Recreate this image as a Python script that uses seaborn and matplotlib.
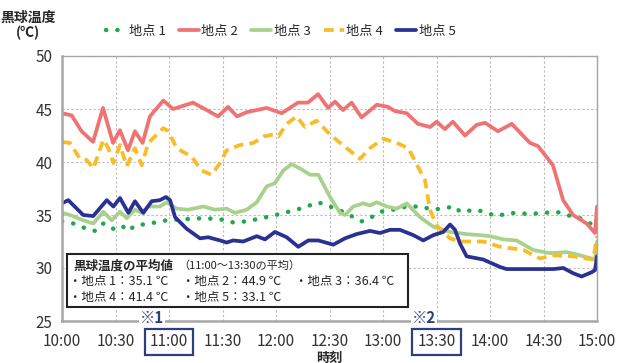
import seaborn as sns
import matplotlib.pyplot as plt
import pandas as pd
from matplotlib.patches import Rectangle

# minutes after 10:00 and black-globe temperature (℃) for each site
t1 = [0, 6.3, 13.8, 18.5, 23.2, 28.8, 33.5, 37.2, 40.9, 49.3, 58.7, 68, 79.2, 88.6, 96, 103.6,
      114.8, 122.2, 131.6, 137.2, 143.7, 150.3, 157.7, 168, 172.7, 178.3, 185.7, 193.3, 200.7,
      208.2, 220.4, 223.2, 232.5, 243.7, 251.2, 262.4, 277.4, 283, 290.4, 296, 300]
v1 = [34.4, 34.2, 33.7, 33.5, 34.2, 33.7, 34.0, 33.5, 34.0, 34.2, 34.5, 34.6, 34.7, 34.6, 34.3, 34.4,
      34.8, 35.1, 35.5, 35.8, 36.2, 35.8, 35.3, 34.4, 34.7, 35.3, 35.5, 35.8, 35.8,
      35.5, 35.8, 35.3, 35.5, 34.9, 35.2, 35.1, 35.3, 35.0, 34.7, 34.2, 34.2]

t2 = [0, 5.4, 11, 17.4, 23, 28.6, 32.5, 37, 40.9, 45.2, 49.3, 56.8, 62.3, 73.5, 81.1, 87.5, 93.1,
      98.1, 103.6, 114.8, 123.2, 132.3, 137.9, 143.6, 149.2, 153.1, 157.6, 162.4, 168, 176.5,
      182.8, 186.7, 193.3, 199.6, 206.4, 210.1, 214.7, 219.2, 226, 232.5, 237.2, 244.5, 252.2,
      262.4, 266.9, 275.3, 281, 286.6, 294.2, 298.9, 300]
v2 = [44.6, 44.4, 42.9, 41.9, 45.1, 41.8, 43.0, 41.1, 42.9, 41.8, 44.3, 45.8, 45.0, 45.6, 44.9, 44.3, 45.2,
      44.3, 44.7, 45.1, 44.6, 45.6, 45.6, 46.4, 45.1, 45.7, 44.9, 45.6, 44.2, 45.4,
      45.2, 44.8, 44.6, 43.6, 43.3, 43.8, 43.1, 43.8, 42.5, 43.5, 43.7, 42.9, 43.6,
      41.8, 41.5, 39.7, 36.4, 35.0, 34.2, 33.3, 35.8]

t3 = [0, 4.5, 11.9, 17.5, 23.2, 27.9, 32.5, 36.3, 40.9, 44.7, 48.4, 54.9, 58.7, 64.3, 70.8, 79.2,
      85.8, 92.3, 97, 103.6, 109.2, 114.8, 119.4, 124.1, 128.8, 133.4, 139.1, 143.7, 150.3, 155.9,
      158.7, 163.3, 168.9, 172.7, 176.5, 182.1, 187.7, 193.3, 200.7, 208.2, 217.6, 226.9, 234.4,
      240, 247.4, 254.9, 264.2, 273.6, 283, 290.4, 298.9, 300]
v3 = [35.2, 35.0, 34.5, 34.2, 35.3, 34.5, 35.3, 34.7, 35.5, 35.2, 35.8, 35.8, 36.2, 35.6, 35.5, 35.8,
      35.5, 35.6, 35.2, 35.5, 36.2, 37.7, 38.0, 39.2, 39.8, 39.4, 38.8, 38.8, 36.7, 35.2,
      35.0, 35.8, 36.1, 35.9, 36.2, 35.8, 35.6, 36.1, 34.8, 33.9, 33.4, 33.2, 33.1,
      33.0, 32.7, 32.6, 31.7, 31.4, 31.5, 31.2, 30.8, 32.5]

t4 = [0, 4.5, 10.1, 13.8, 17.6, 23.2, 26, 28.8, 32.5, 36.3, 40.9, 44.7, 48.4, 56.8, 59.6, 64.3,
      72.7, 78.3, 83.9, 88.6, 92.3, 99.8, 107.3, 112.9, 118.5, 121.3, 126, 131.6, 136.2, 142.8,
      150.3, 159.6, 167.1, 172.7, 180.1, 187.7, 194.2, 200.7, 203.5, 205.4, 206.3, 210.1, 217.6,
      223.2, 236.2, 245.6, 258.7, 268, 275.5, 286.7, 297.9, 300]
v4 = [41.9, 41.8, 40.3, 40.2, 39.4, 42.1, 41.3, 39.9, 41.6, 39.6, 41.3, 39.7, 41.8, 43.2, 42.9, 41.3,
      40.5, 39.2, 38.8, 39.9, 41.1, 41.6, 41.8, 42.4, 42.6, 42.4, 43.6, 44.3, 43.3, 43.9,
      42.6, 41.3, 40.3, 41.3, 42.2, 41.8, 41.3, 39.2, 38.3, 36.4, 35.5, 34.0, 32.8,
      32.5, 32.5, 32.0, 31.7, 30.9, 31.2, 31.1, 30.8, 33.0]

t5 = [0, 3.5, 11.9, 17.5, 25.1, 28.8, 32.5, 37.2, 40.9, 45.6, 50.3, 54.9, 58.3, 60.6, 63.4, 69.9,
      77.4, 82, 88.6, 92.3, 96, 101.6, 109.2, 113.8, 119.4, 126, 132.5, 138.1, 143.7, 152.1,
      158.7, 165.2, 172.7, 178.3, 183.9, 189.5, 197, 202.6, 208.2, 213.8, 217.6, 220.4, 223.2,
      226.9, 236.2, 245.6, 249.3, 264.2, 275.5, 281.1, 286.7, 291.4, 297, 298.9, 300]
v5 = [36.1, 36.4, 35.0, 34.9, 36.4, 35.8, 36.6, 35.2, 36.3, 35.2, 36.3, 36.4, 36.7, 36.4, 34.8, 33.7,
      32.8, 32.9, 32.6, 32.4, 32.6, 32.5, 33.0, 32.7, 33.4, 32.9, 32.0, 32.6, 32.6, 32.2,
      32.8, 33.2, 33.5, 33.3, 33.6, 33.6, 33.1, 32.6, 33.1, 33.4, 34.1, 33.6, 32.3,
      31.1, 30.8, 30.1, 29.9, 29.9, 29.9, 30.0, 29.5, 29.2, 29.6, 29.8, 31.1]

site_names = ["地点 1", "地点 2", "地点 3", "地点 4", "地点 5"]
tick_labels = ["10:00", "10:30", "11:00", "11:30", "12:00", "12:30",
               "13:00", "13:30", "14:00", "14:30", "15:00"]
avg_values = ["35.1", "44.9", "36.4", "41.4", "33.1"]

sns.set_style("white")
plt.rcParams['font.family'] = ['Noto Sans CJK JP', 'DejaVu Sans']

navy = "#2E3F80"
fig = plt.figure(figsize=(6.19, 3.63), dpi=100)
ax = fig.add_axes([62/619, 1 - 321/363, 535/619, 265/363])

def px(x, y):
    return x / 619, 1 - y / 363

series = [(t1, v1), (t2, v2), (t3, v3), (t4, v4), (t5, v5)]
styles = [
    dict(color="#22A84A", lw=3.2, linestyle=(0, (0.05, 2.5)), dash_capstyle='round'),
    dict(color="#F07373", lw=2.7, solid_capstyle='round'),
    dict(color="#A9D18E", lw=2.7, solid_capstyle='round'),
    dict(color="#F9BC26", lw=2.7, linestyle=(0, (2.6, 1.6))),
    dict(color="#2B3192", lw=2.7, solid_capstyle='round'),
]
for name, (t, v), st in zip(site_names, series, styles):
    df = pd.DataFrame({"t": t, "temp": v})
    sns.lineplot(data=df, x="t", y="temp", ax=ax, label=name, **st)

ax.set_xlim(0, 300)
ax.set_ylim(25, 50)
ax.set_xticks(range(0, 301, 30))
ax.set_xticklabels(tick_labels)
ax.set_yticks(range(25, 51, 5))
ax.tick_params(length=0, labelsize=11, colors="#333333")
ax.tick_params(axis='x', pad=9)
ax.tick_params(axis='y', pad=7)
ax.grid(True, color="#BBBBBB", linestyle=(0, (2, 2)), lw=0.8)
for side, sp in ax.spines.items():
    sp.set_color("#A6A6A6")
    sp.set_linewidth(1.8 if side in ("left", "bottom") else 1.0)

for lab in ax.get_xticklabels():
    if lab.get_text() in ("11:00", "13:30"):
        lab.set_bbox(dict(facecolor="white", edgecolor=navy, linewidth=1.6, pad=3.5))

ax.set_xlabel("時刻", fontsize=9.5, fontweight="bold", labelpad=0)
ax.set_ylabel("")

# note marks above the boxed tick labels
for mark, x in [("※1", 140), ("※2", 412)]:
    fig.text(*px(x, 318), mark, fontsize=11, fontweight="bold", color=navy,
             ha="left", va="center",
             bbox=dict(facecolor="white", edgecolor="none", pad=0.5))

fig.text(*px(28, 18), "黒球温度", fontsize=10, fontweight="bold", ha="center", va="center")
fig.text(*px(28, 33), "(℃)", fontsize=10, fontweight="bold", ha="center", va="center")

ax.legend(loc="center", bbox_to_anchor=px(281, 31), bbox_transform=fig.transFigure,
          ncol=5, frameon=False, fontsize=9.5, handlelength=1.5, handletextpad=0.2,
          columnspacing=1.0)

# box with average values
x0, y0 = px(67, 307)
x1, y1 = px(408, 254)
fig.patches.append(Rectangle((x0, y0), x1 - x0, y1 - y0, transform=fig.transFigure,
                             facecolor="white", edgecolor="#222222", lw=1.5, zorder=5))
fig.text(*px(73, 266), "黒球温度の平均値", fontsize=9, fontweight="bold", va="center", zorder=6)
fig.text(*px(178, 266), "（11:00～13:30の平均）", fontsize=8, va="center", zorder=6)
cols = [(69, 282), (182, 282), (295, 282), (69, 297), (182, 297)]
for (cx, cy), name, val in zip(cols, site_names, avg_values):
    fig.text(*px(cx, cy), "・" + name + "：" + val + " ℃", fontsize=9, va="center", zorder=6)

fig.savefig("out.png", dpi=100)
